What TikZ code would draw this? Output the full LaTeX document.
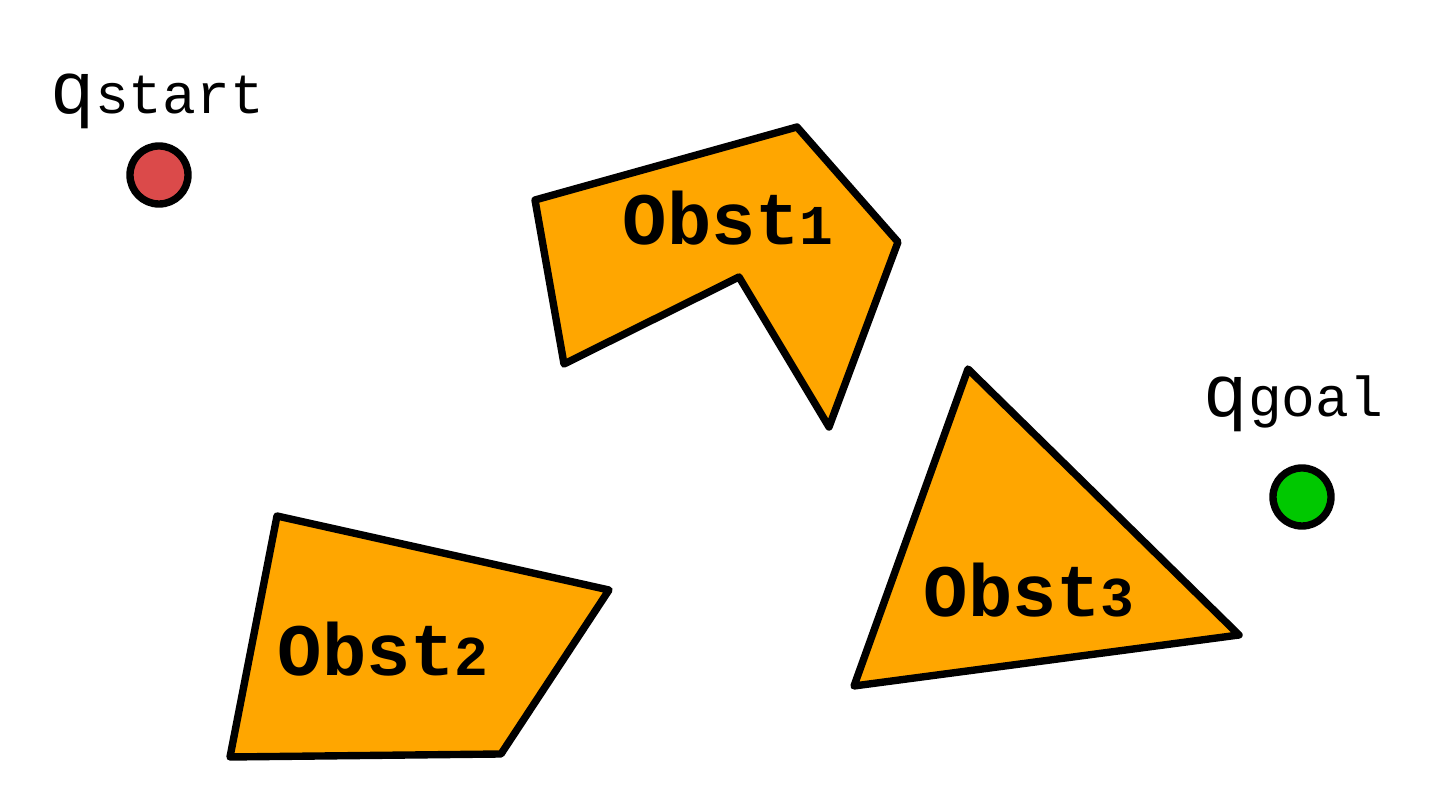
\documentclass[tikz,border=0pt]{standalone}
\usepackage{fontspec}
\setmainfont{Liberation Mono}
\usetikzlibrary{positioning}

\definecolor{obstorange}{RGB}{255,166,0}
\definecolor{startred}{RGB}{219,74,74}
\definecolor{goalgreen}{RGB}{0,200,0}

\tikzset{
  obst/.style={draw=black, fill=obstorange, line width=2.1pt, line join=round},
  config/.style={circle, draw=black, line width=2.1pt, minimum size=0.58cm, inner sep=0pt},
  qlabel/.style={anchor=base west, inner sep=0pt},
  olabel/.style={anchor=base west, inner sep=0pt, font=\bfseries}
}
\newcommand{\qbig}{\fontsize{21}{21}\selectfont}
\newcommand{\qsmall}{\fontsize{16}{16}\selectfont}

\begin{document}
\begin{tikzpicture}[x=0.01cm, y=-0.01cm]
\useasboundingbox (0,0) rectangle (1445,804);
% obstacles
\draw [obst] (535,200) -- (797,127) -- (898,242) -- (829,427) -- (739,277) -- (564,364) -- cycle;
\draw [obst] (277,516) -- (609,590) -- (501,754) -- (230,757) -- cycle;
\draw [obst] (968,369) -- (1239,635) -- (854,686) -- cycle;
\node [olabel] (o1) at (622,245) {{\qbig Obst}{\qsmall 1}};
\node [olabel] (o2) at (277,676) {{\qbig Obst}{\qsmall 2}};
\node [olabel] (o3) at (923,617) {{\qbig Obst}{\qsmall 3}};
% start and goal
\node [config, fill=startred] (qs) at (159,175) {};
\node [config, fill=goalgreen] (qg) at (1302,497) {};
\node [qlabel] (qsl) at (50,114) {{\qbig q}{\qsmall start}};
\node [qlabel] (qgl) at (1203,417) {{\qbig q}{\qsmall goal}};
\end{tikzpicture}
\end{document}
